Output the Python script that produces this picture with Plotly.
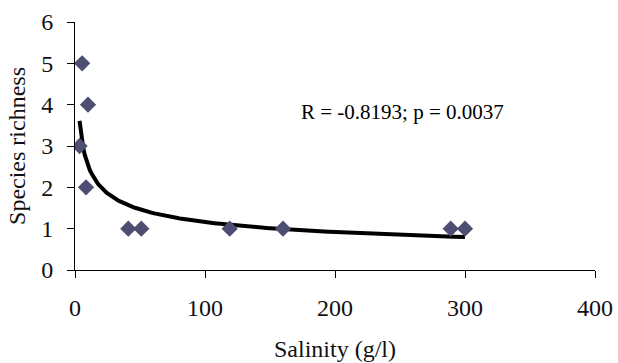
import numpy as np
import plotly.graph_objects as go

# Data
salinity = [3.5, 5.5, 8.5, 10, 41, 51, 119, 160, 289, 300]
richness = [3, 5, 2, 4, 1, 1, 1, 1, 1, 1]
x_ticks = [0, 100, 200, 300, 400]
y_ticks = [0, 1, 2, 3, 4, 5, 6]
stat_text = "R = -0.8193; p = 0.0037"

# Power trendline (least squares on log-log, as spreadsheet trendline)
lx = np.log(salinity)
ly = np.log(richness)
b, ln_a = np.polyfit(lx, ly, 1)
a = np.exp(ln_a)
xf = np.linspace(min(salinity), max(salinity), 300)
yf = a * xf ** b

font_family = "Liberation Serif"
fs = 24

fig = go.Figure()
fig.add_trace(go.Scatter(
    x=xf, y=yf, mode="lines",
    line=dict(color="black", width=4),
    hoverinfo="skip", showlegend=False,
))
fig.add_trace(go.Scatter(
    x=salinity, y=richness, mode="markers",
    marker=dict(symbol="diamond", size=12.5, color="#4e4e72", line=dict(width=0)),
    showlegend=False,
))

fig.add_annotation(
    x=172.5, y=3.83, xref="x", yref="y", text=stat_text,
    showarrow=False, xanchor="left", yanchor="middle",
    font=dict(family=font_family, size=21, color="black"),
)

fig.update_layout(
    width=618, height=363,
    margin=dict(l=75, r=23, t=22, b=93),
    paper_bgcolor="white", plot_bgcolor="white",
    font=dict(family=font_family, size=fs, color="#111111"),
)
fig.update_xaxes(
    range=[0, 400], tickvals=x_ticks, ticktext=[str(v) for v in x_ticks],
    showgrid=False, zeroline=False, showline=True, linecolor="black", linewidth=1,
    ticks="outside", ticklen=7, tickcolor="black", ticklabelstandoff=9,
    tickfont=dict(family=font_family, size=fs), automargin=False,
    title=dict(text="Salinity (g/l)", standoff=20, font=dict(family=font_family, size=fs)),
)
fig.update_yaxes(
    range=[0, 6], tickvals=y_ticks, ticktext=[str(v) for v in y_ticks],
    showgrid=False, zeroline=False, showline=True, linecolor="black", linewidth=1,
    ticks="outside", ticklen=7, tickcolor="black", ticklabelstandoff=9,
    tickfont=dict(family=font_family, size=fs), automargin=False,
    title=dict(text="Species richness", standoff=8, font=dict(family=font_family, size=fs)),
)

fig.write_html(
    "out.html",
    config={"displayModeBar": False},
    post_script="document.body.style.margin='0';document.body.style.overflow='hidden';",
)
